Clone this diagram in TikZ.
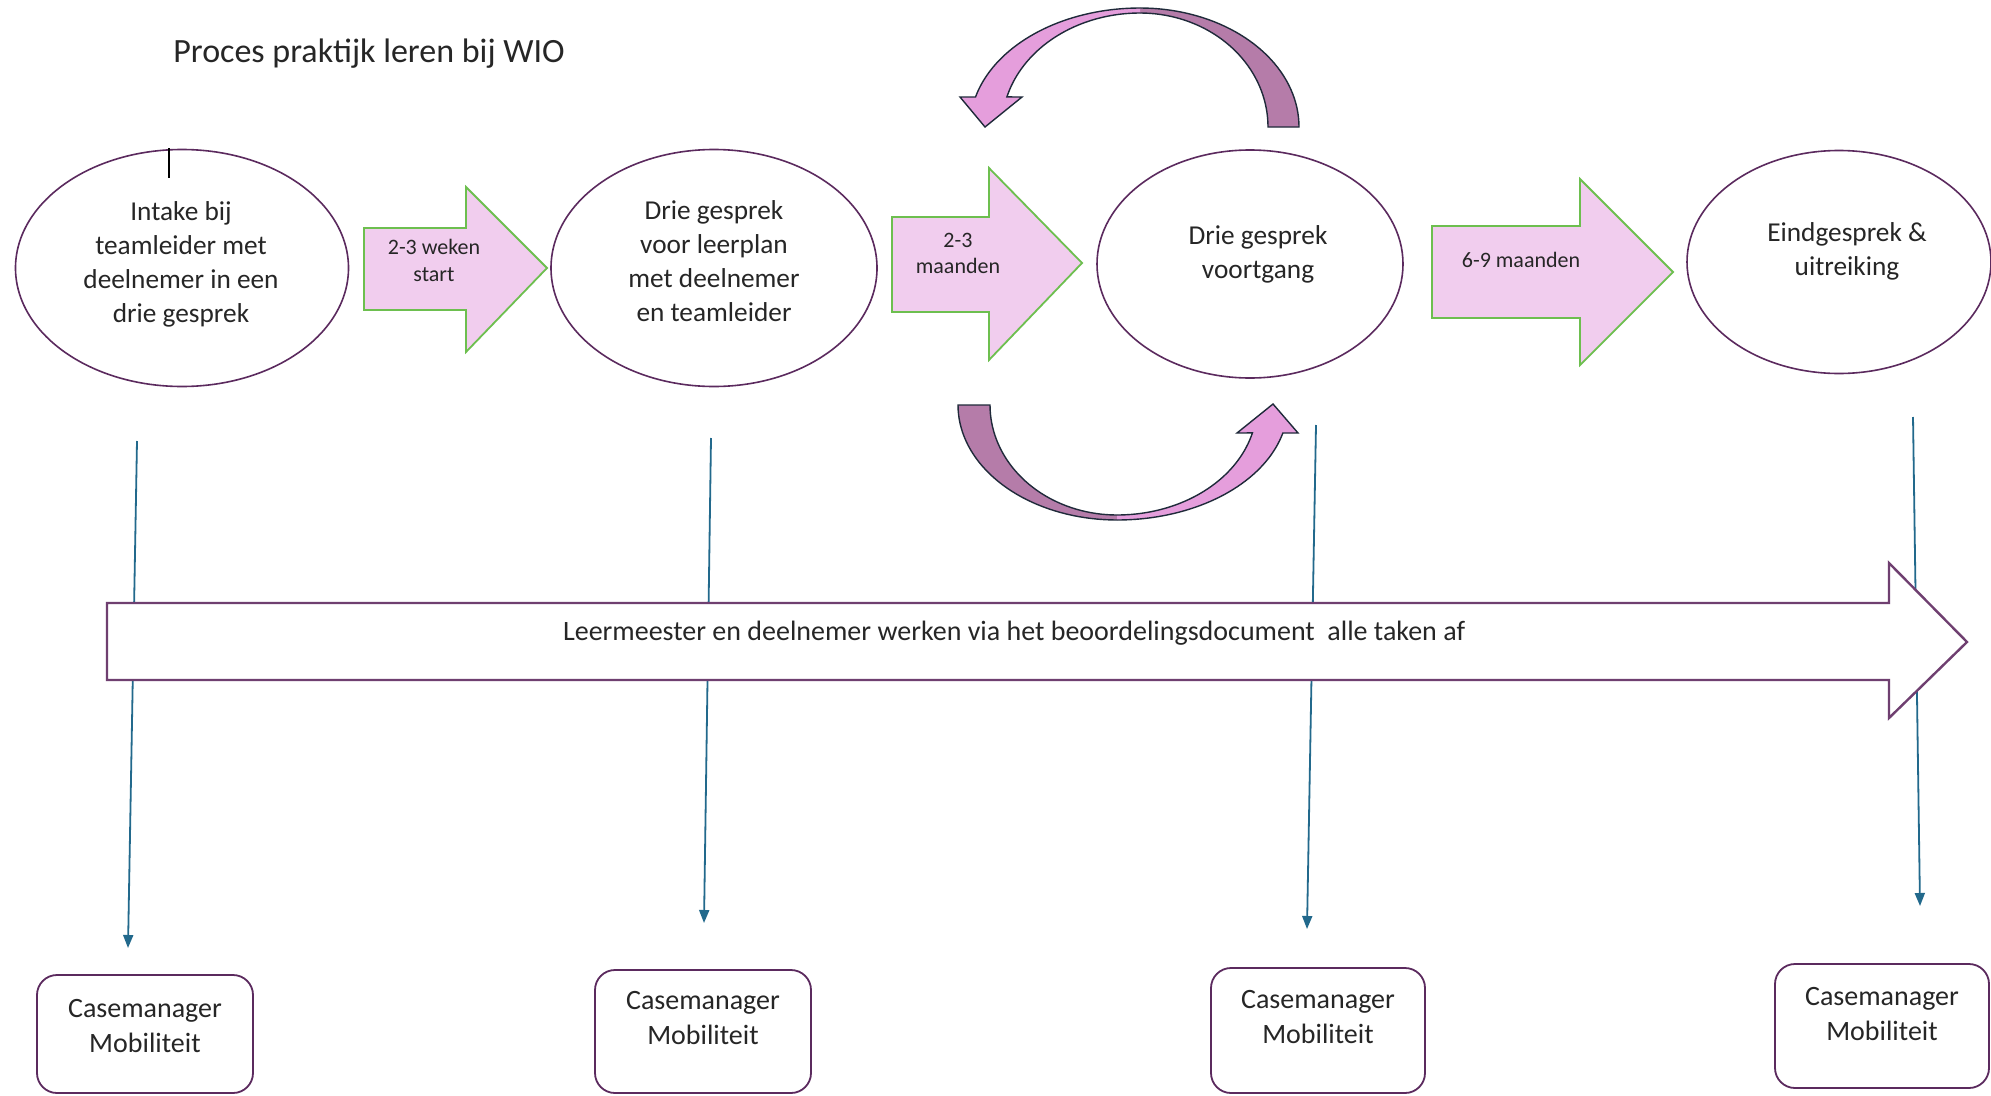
\documentclass[tikz,border=0pt]{standalone}
\usepackage{fontspec}
\setmainfont{Carlito}
\usetikzlibrary{arrows.meta,shapes.geometric}
\definecolor{ellstroke}{HTML}{5B2A5E}
\definecolor{pinkfill}{HTML}{F1CDEE}
\definecolor{greenline}{HTML}{6DBF4F}
\definecolor{clightc}{HTML}{E59EDC}
\definecolor{cdarkc}{HTML}{B57CA9}
\definecolor{navyline}{HTML}{1F2A3A}
\definecolor{bluec}{HTML}{22698C}
\definecolor{bigstroke}{HTML}{6F3F70}
\definecolor{txt}{HTML}{262626}
\begin{document}
\begin{tikzpicture}[x=1pt,y=-1pt,
  ell/.style={draw=ellstroke, line width=1.6pt, ellipse, inner sep=0pt, fill=white},
  etext/.style={align=center, inner sep=0pt, text=txt, font=\fontsize{27.3}{34}\selectfont},
  atext/.style={align=center, inner sep=0pt, text=txt, font=\fontsize{22}{27}\selectfont},
  cmbox/.style={draw=ellstroke, line width=1.8pt, rectangle, rounded corners=20pt, inner sep=0pt},
  cmtext/.style={align=center, inner sep=0pt, text=txt, font=\fontsize{28}{35}\selectfont},
  pinkarrow/.style={fill=pinkfill, draw=greenline, line width=1.8pt, line join=miter},
  clightfill/.style={fill=clightc},
  cdarkfill/.style={fill=cdarkc},
  cline/.style={draw=navyline, line width=1.4pt, line join=miter},
  blueline/.style={draw=bluec, line width=1.8pt, -{Triangle[length=13pt,width=10pt]}},
  bigarrow/.style={fill=white, draw=bigstroke, line width=2.4pt, line join=miter}
]
\useasboundingbox (0,0) rectangle (1991,1095);
\fill[white] (0,0) rectangle (1991,1095);

% title
\node[anchor=base, text=txt, font=\fontsize{34}{40}\selectfont, inner sep=0pt] (title) at (369,62) {Proces praktijk leren bij WIO};

% ellipses
\node[ell, minimum width=333pt, minimum height=237pt] (e1) at (182,268) {};
\node[ell, minimum width=326pt, minimum height=237pt] (e2) at (714,268) {};
\node[ell, minimum width=306pt, minimum height=228pt] (e3) at (1250,264) {};
\node[ell, minimum width=304pt, minimum height=223pt] (e4) at (1839,262) {};

% cursor mark
\draw[black, line width=1.5pt] (169,148) -- (169,178);

\node[etext] (t1) at (181,264) {Intake bij\\teamleider met\\deelnemer in een\\drie gesprek};
\node[etext] (t2) at (714,261.5) {Drie gesprek\\voor leerplan\\met deelnemer\\en teamleider};
\node[etext] (t3) at (1258,254.5) {Drie gesprek\\voortgang};
\node[etext] (t4) at (1847,251.6) {Eindgesprek \&\\uitreiking};

% pink arrows
\filldraw[pinkarrow] (364,228) -- (466,228) -- (466,187) -- (547,268) -- (466,352) -- (466,310) -- (364,310) -- cycle;
\filldraw[pinkarrow] (892,217) -- (989,217) -- (989,168) -- (1082,263) -- (989,360) -- (989,312) -- (892,312) -- cycle;
\filldraw[pinkarrow] (1432,226) -- (1580,226) -- (1580,179) -- (1673,272) -- (1580,365) -- (1580,318) -- (1432,318) -- cycle;
\node[atext] (a1t) at (434,260.8) {2-3 weken\\start};
\node[atext, font=\fontsize{22}{26}\selectfont] (a2t) at (958,253) {2-3\\maanden};
\node[atext, anchor=base] (a3t) at (1521,267) {6-9 maanden};

% top curved arrow (dark tail part)
\fill[cdarkfill] plot[domain=0:90,samples=40] ({1140+159*cos(\x)},{127-119*sin(\x)})
  -- plot[domain=90:0,samples=40] ({1140+128*cos(\x)},{127-114*sin(\x)}) -- cycle;
\draw[cline] plot[domain=90:0,samples=40] ({1140+128*cos(\x)},{127-114*sin(\x)})
  -- plot[domain=0:90,samples=40] ({1140+159*cos(\x)},{127-119*sin(\x)});
% top curved arrow (light head part)
\fill[clightfill] plot[domain=90:165.4,samples=40] ({1140+170*cos(\x)},{127-119*sin(\x)})
  -- (960,97) -- (985,127) -- (1022,97)
  -- plot[domain=164.7:90,samples=40] ({1140+138*cos(\x)},{127-114*sin(\x)}) -- cycle;
\draw[cline] plot[domain=90:165.4,samples=40] ({1140+170*cos(\x)},{127-119*sin(\x)})
  -- (960,97) -- (985,127) -- (1022,97)
  -- plot[domain=164.7:90,samples=40] ({1140+138*cos(\x)},{127-114*sin(\x)});

% bottom curved arrow (dark tail part)
\fill[cdarkfill] plot[domain=180:270,samples=40] ({1117+159*cos(\x)},{405-115*sin(\x)})
  -- plot[domain=270:180,samples=40] ({1117+127*cos(\x)},{405-110*sin(\x)}) -- cycle;
\draw[cline] plot[domain=270:180,samples=40] ({1117+127*cos(\x)},{405-110*sin(\x)})
  -- plot[domain=180:270,samples=40] ({1117+159*cos(\x)},{405-115*sin(\x)});
% bottom curved arrow (light head part)
\fill[clightfill] plot[domain=270:345.9,samples=40] ({1117+171*cos(\x)},{405-115*sin(\x)})
  -- (1298,433) -- (1273,404) -- (1237,433)
  -- plot[domain=345.3:270,samples=40] ({1117+140*cos(\x)},{405-110*sin(\x)}) -- cycle;
\draw[cline] plot[domain=270:345.9,samples=40] ({1117+171*cos(\x)},{405-115*sin(\x)})
  -- (1298,433) -- (1273,404) -- (1237,433)
  -- plot[domain=345.3:270,samples=40] ({1117+140*cos(\x)},{405-110*sin(\x)});

% casemanager boxes
\node[cmbox, minimum width=216pt, minimum height=118pt] (cm1) at (145,1034) {};
\node[cmbox, minimum width=216pt, minimum height=123pt] (cm2) at (703,1031.5) {};
\node[cmbox, minimum width=214pt, minimum height=125pt] (cm3) at (1318,1030.5) {};
\node[cmbox, minimum width=214pt, minimum height=124pt] (cm4) at (1882,1026) {};
\node[cmtext] (cmt1) at (145,1026.5) {Casemanager\\Mobiliteit};
\node[cmtext] (cmt2) at (703,1018.5) {Casemanager\\Mobiliteit};
\node[cmtext] (cmt3) at (1318,1017.5) {Casemanager\\Mobiliteit};
\node[cmtext] (cmt4) at (1882,1014.5) {Casemanager\\Mobiliteit};

% blue lines
\coordinate (b1s) at (137,441); \coordinate (b1e) at (128,948);
\coordinate (b2s) at (711,438); \coordinate (b2e) at (704,923);
\coordinate (b3s) at (1316,425); \coordinate (b3e) at (1307,929);
\coordinate (b4s) at (1913,417); \coordinate (b4e) at (1920,906);
\draw[blueline] (b1s) -- (b1e);
\draw[blueline] (b2s) -- (b2e);
\draw[blueline] (b3s) -- (b3e);
\draw[blueline] (b4s) -- (b4e);

% big arrow
\filldraw[bigarrow] (107,603) -- (1889,603) -- (1889,563) -- (1967,642) -- (1889,718) -- (1889,680) -- (107,680) -- cycle;
\node[anchor=base, inner sep=0pt, text=txt, font=\fontsize{28}{34}\selectfont] (bt) at (1014,640) {Leermeester en deelnemer werken via het beoordelingsdocument\ \ alle taken af};
\end{tikzpicture}
\end{document}
